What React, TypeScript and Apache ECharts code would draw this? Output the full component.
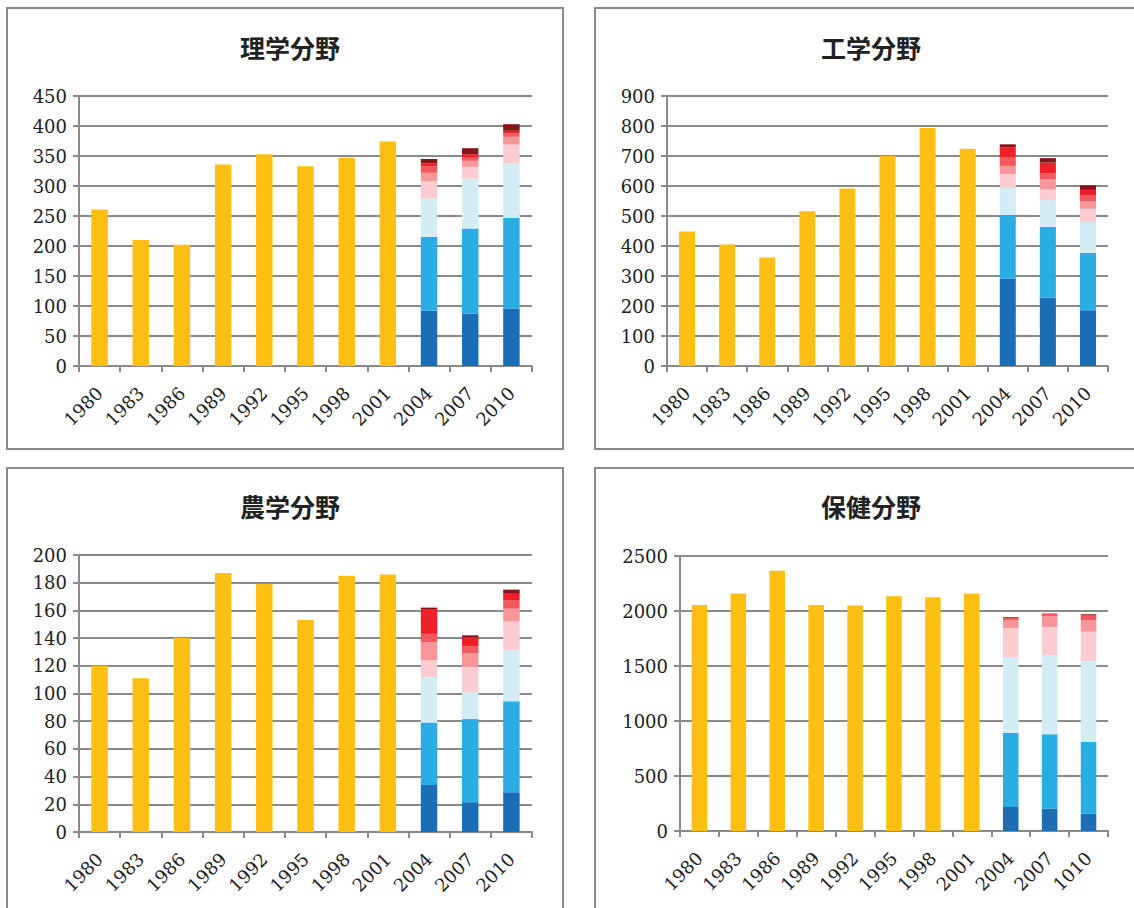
import React, { useEffect, useRef } from "react";
import * as echarts from "echarts";

const years = ["1980", "1983", "1986", "1989", "1992", "1995", "1998", "2001", "2004", "2007", "2010"];
const yearsHealth = ["1980", "1983", "1986", "1989", "1992", "1995", "1998", "2001", "2004", "2007", "1010"];

const titles = ["理学分野", "工学分野", "農学分野", "保健分野"];

// totals for 1980–2001 (single yellow bars)
const sciEarly = [261, 210, 202, 336, 353, 333, 347, 374];
const engEarly = [448, 405, 362, 516, 592, 700, 793, 724];
const agrEarly = [120, 111, 140, 187, 179, 153, 185, 186];
const hltEarly = [2055, 2160, 2365, 2055, 2050, 2135, 2125, 2160];

// stacked segments (bottom -> top) for 2004, 2007, 2010
const sci2004 = [92, 123, 64, 29, 14, 11, 5, 7];
const sci2007 = [87, 142, 83, 20, 10, 5, 6, 10];
const sci2010 = [96, 151, 91, 31, 13, 6, 4, 11];

const eng2004 = [291, 213, 90, 46, 27, 30, 31, 11];
const eng2007 = [228, 235, 90, 36, 33, 20, 36, 15];
const eng2010 = [186, 191, 103, 44, 26, 20, 17, 15];

const agr2004 = [34, 45, 33, 12, 13, 6, 18, 1];
const agr2007 = [21.5, 60, 19.5, 18.5, 9.5, 5, 6.5, 1.5];
const agr2010 = [28.7, 65.7, 37.1, 20.5, 9.2, 5.9, 4.9, 3];

const hlt2004 = [218, 673, 691, 263, 73, 15, 12, 0];
const hlt2007 = [203, 676, 721, 255, 100, 24, 0, 0];
const hlt2010 = [157, 652, 736, 267, 103, 42, 10, 6];

const axisMax = [450, 900, 200, 2500];
const axisStep = [50, 100, 20, 500];

const yellow = "#FDBF12";
const segColors = ["#1B6DB5", "#29ADE3", "#D4ECF4", "#FBCDD0", "#F69699", "#F2585D", "#EE2027", "#86151A"];

const charts = [
  { early: sciEarly, late: [sci2004, sci2007, sci2010], cats: years },
  { early: engEarly, late: [eng2004, eng2007, eng2010], cats: years },
  { early: agrEarly, late: [agr2004, agr2007, agr2010], cats: years },
  { early: hltEarly, late: [hlt2004, hlt2007, hlt2010], cats: yearsHealth },
];

const grids = [
  { left: 79, top: 96, width: 453, height: 270 },
  { left: 667, top: 96, width: 441, height: 270 },
  { left: 79, top: 555, width: 453, height: 277 },
  { left: 680, top: 556, width: 428, height: 275 },
];

const panels = [
  { x: 7, y: 8, w: 556, h: 441 },
  { x: 595, y: 8, w: 545, h: 441 },
  { x: 7, y: 468, w: 556, h: 450 },
  { x: 595, y: 468, w: 545, h: 450 },
];

const titlePos = [
  { x: 285, y: 29 },
  { x: 866, y: 29 },
  { x: 285, y: 488 },
  { x: 866, y: 488 },
];

const serif = "DejaVu Serif";
const gray = "#8a8a8a";

function buildOption() {
  const series: any[] = [];
  charts.forEach((c, i) => {
    series.push({
      type: "bar",
      xAxisIndex: i,
      yAxisIndex: i,
      stack: "s" + i,
      barWidth: "40%",
      itemStyle: { color: yellow },
      data: [...c.early, null, null, null],
    });
    segColors.forEach((col, k) => {
      series.push({
        type: "bar",
        xAxisIndex: i,
        yAxisIndex: i,
        stack: "s" + i,
        barWidth: "40%",
        itemStyle: { color: col },
        data: [null, null, null, null, null, null, null, null, c.late[0][k], c.late[1][k], c.late[2][k]],
      });
    });
  });

  return {
    animation: false,
    backgroundColor: "#ffffff",
    title: titles.map((t, i) => ({
      text: t,
      left: titlePos[i].x,
      top: titlePos[i].y,
      textAlign: "center",
      textStyle: { fontSize: 25, fontWeight: "bold", fontFamily: "Noto Sans CJK JP", color: "#222" },
    })),
    grid: grids.map((g) => ({ ...g, containLabel: false })),
    xAxis: charts.map((c, i) => ({
      type: "category",
      gridIndex: i,
      data: c.cats,
      axisLine: { show: true, lineStyle: { color: gray, width: 2 } },
      axisTick: { show: true, length: 6, lineStyle: { color: gray, width: 2 } },
      axisLabel: { rotate: 45, margin: 24, fontFamily: serif, fontSize: 18, color: "#222", interval: 0 },
    })),
    yAxis: charts.map((c, i) => ({
      type: "value",
      gridIndex: i,
      min: 0,
      max: axisMax[i],
      interval: axisStep[i],
      axisLine: { show: true, lineStyle: { color: gray, width: 2 } },
      axisTick: { show: true, length: 6, lineStyle: { color: gray, width: 2 } },
      splitLine: { show: true, lineStyle: { color: gray, width: 2 } },
      axisLabel: {
        margin: 12,
        fontFamily: serif,
        fontSize: 18,
        color: "#222",
        formatter: (v: number) => String(v),
      },
    })),
    graphic: panels.map((p) => ({
      type: "rect",
      shape: { x: p.x, y: p.y, width: p.w, height: p.h },
      style: { fill: "none", stroke: gray, lineWidth: 2 },
      silent: true,
    })),
    series,
  };
}

export default function App() {
  const ref = useRef<HTMLDivElement>(null);
  useEffect(() => {
    if (!ref.current) return;
    const chart = echarts.init(ref.current, null, { renderer: "svg" });
    chart.setOption(buildOption());
    return () => chart.dispose();
  }, []);
  return (
    <div
      ref={ref}
      style={{ position: "fixed", left: 0, top: 0, width: 1134, height: 908, background: "#fff" }}
    />
  );
}
